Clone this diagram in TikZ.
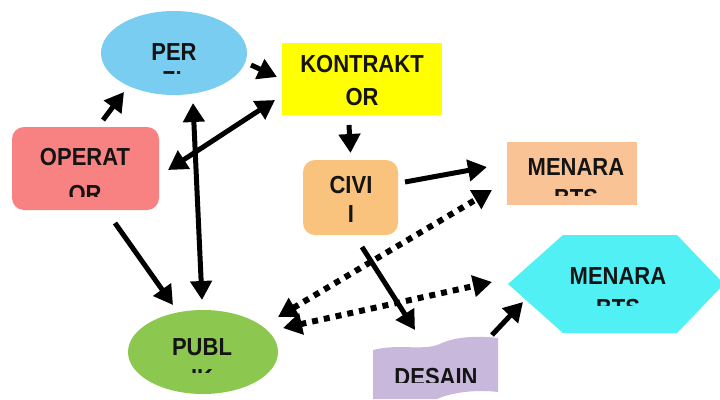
\documentclass[tikz,border=0pt]{standalone}
\usepackage{fontspec}
\setmainfont{Liberation Sans}
\usetikzlibrary{arrows.meta,shapes.geometric,calc}
\definecolor{perblue}{HTML}{78CDF0}
\definecolor{operpink}{HTML}{F88282}
\definecolor{konyellow}{HTML}{FFFF00}
\definecolor{civorange}{HTML}{FAC37D}
\definecolor{menpeach}{HTML}{FAC396}
\definecolor{hexcyan}{HTML}{50F0F5}
\definecolor{pubgreen}{HTML}{8CC850}
\definecolor{deslav}{HTML}{C8B9DC}
\definecolor{ink}{HTML}{141414}
\begin{document}
\begin{tikzpicture}[x=1pt,y=-1pt,
  box/.style={draw=none, inner sep=0pt, outer sep=0pt},
  lbl/.style={anchor=base, inner sep=0pt, outer sep=0pt, yscale=1.12, transform shape, font=\fontsize{22}{26}\selectfont\bfseries, text=ink},
  arr/.style={line width=5pt, -{Triangle[length=19pt,width=21pt]}},
  darr/.style={line width=5pt, {Triangle[length=19pt,width=21pt]}-{Triangle[length=19pt,width=21pt]}},
  dotarr/.style={line width=6pt, dash pattern=on 6pt off 6pt, {Triangle[length=19pt,width=21pt]}-{Triangle[length=19pt,width=21pt]}}]
\useasboundingbox (0,0) rectangle (720,399);
\clip (0,0) rectangle (720,399);
\fill[white] (0,0) rectangle (720,399);

% shapes
\node[box, fill=operpink, rounded corners=12pt, minimum width=147pt, minimum height=83pt] (oper) at (85.5,168.5) {};
\node[box, ellipse, fill=perblue, minimum width=146pt, minimum height=84pt] (per) at (174,53) {};
\node[box, fill=konyellow, minimum width=160pt, minimum height=72pt] (kon) at (362,79) {};
\node[box, fill=civorange, rounded corners=12pt, minimum width=95pt, minimum height=75pt] (civ) at (350.5,197.5) {};
\node[box, fill=menpeach, minimum width=130pt, minimum height=63pt] (men) at (572,173.5) {};
\fill[hexcyan] (508,284) -- (563,235) -- (677,235) -- (724,284) -- (677,333) -- (563,333) -- cycle;
\node[box, minimum width=212pt, minimum height=98pt] (hex) at (614,284) {};
\fill[deslav] (373,350) .. controls (400,343) and (425,352) .. (442,343)
  .. controls (458,336) and (480,336) .. (498,338) -- (498,392)
  .. controls (475,389) and (450,393) .. (437,399) -- (373,399) -- cycle;
\node[box, minimum width=125pt, minimum height=59pt] (des) at (435.5,369.5) {};
\node[box, ellipse, fill=pubgreen, minimum width=150pt, minimum height=84pt] (pub) at (203,352) {};

% labels
\node[lbl] (perA) at (174,60) {PER};
\begin{scope}\clip (100,60) rectangle (250,73);
\node[lbl] (perB) at (172,88) {ZI};\end{scope}
\node[lbl] (operA) at (85,165) {OPERAT};
\begin{scope}\clip (12,170) rectangle (159,196);
\node[lbl] (operB) at (85,202) {OR};\end{scope}
\node[lbl] (konA) at (362,72) {KONTRAKT};
\node[lbl] (konB) at (362,105) {OR};
\node[lbl] (civA) at (351,193) {CIVI};
\node[lbl] (civB) at (351,222) {I};
\node[lbl] (menA) at (576,175) {MENARA};
\begin{scope}\clip (507,180) rectangle (637,195);
\node[lbl] (menB) at (576,206) {BTS};\end{scope}
\node[lbl] (hexA) at (618,284) {MENARA};
\begin{scope}\clip (508,290) rectangle (720,305);
\node[lbl] (hexB) at (618,316) {BTS};\end{scope}
\node[lbl] (pubA) at (202,355) {PUBL};
\begin{scope}\clip (128,360) rectangle (277,372);
\node[lbl] (pubB) at (202,386) {IK};\end{scope}
\begin{scope}\clip (373,355) rectangle (498,382);
\node[lbl] (desA) at (436,385) {DESAIN};\end{scope}

% connectors
\draw[arr] ([shift={(17.5,-7)}]oper.north) -- ([shift={(-50,-3)}]per.south);
\draw[arr] ([shift={(4,12)}]per.east) -- ([shift={(-5,-2)}]kon.west);
\draw[darr] ([shift={(-7,21)}]kon.west) -- ([shift={(9,1.5)}]oper.east);
\draw[darr] ([shift={(19,8)}]per.south) -- ([shift={(-1,-10)}]pub.north);
\draw[arr] ([shift={(-13,10)}]kon.south) -- ([shift={(0,-7)}]civ.north);
\draw[arr] ([shift={(29.5,13)}]oper.south) -- ([shift={(-30,-5)}]pub.north);
\draw[arr] ([shift={(7,-15.5)}]civ.east) -- ([shift={(-20,-6.5)}]men.west);
\draw[arr] ([shift={(11.5,12)}]civ.south) -- ([shift={(-20.5,-10)}]des.north);
\draw[arr] ([shift={(-6,-5)}]des.north east) -- ([shift={(15,18)}]hex.west);
\draw[dotarr] ([shift={(0,-35)}]pub.east) -- ([shift={(-15,-15)}]men.south west);
\draw[dotarr] ([shift={(5,-24)}]pub.east) -- ([shift={(-16,-2)}]hex.west);
\end{tikzpicture}
\end{document}
